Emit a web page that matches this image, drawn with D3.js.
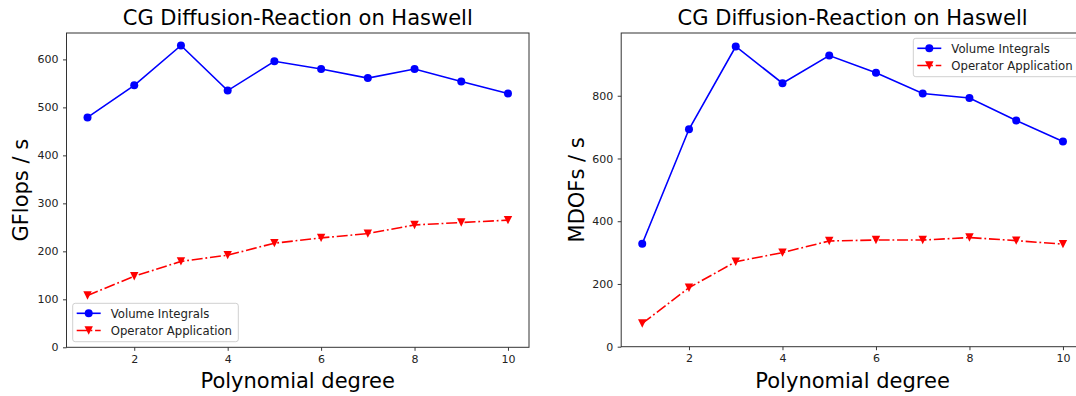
<!DOCTYPE html>
<html>
<head>
<meta charset="utf-8">
<script src="https://cdn.jsdelivr.net/npm/d3@7"></script>
<style>
  html, body { margin: 0; padding: 0; background: #fff; }
  svg { display: block; font-family: "DejaVu Sans", sans-serif; }
</style>
</head>
<body>
<svg id="chart" width="1076" height="396"></svg>
<script>
// ---- data ----
const degrees = [1, 2, 3, 4, 5, 6, 7, 8, 9, 10];
const gflopsVolume = [479, 546, 629, 535, 596, 580, 561, 580, 554, 529];
const gflopsOperator = [108, 148, 179, 192, 217, 228, 237, 255, 260, 265];
const mdofsVolume = [328, 693, 957, 840, 928, 873, 807, 793, 721, 654];
const mdofsOperator = [74, 188, 271, 300, 337, 340, 340, 348, 338, 327];
const xTicks = [2, 4, 6, 8, 10];
const gflopsTicks = [0, 100, 200, 300, 400, 500, 600];
const mdofsTicks = [0, 200, 400, 600, 800];
const seriesNames = ["Volume Integrals", "Operator Application"];
const titleText = "CG Diffusion-Reaction on Haswell";
const xLabelText = "Polynomial degree";

const svg = d3.select("#chart");

function drawPanel(o) {
  const g = svg.append("g");
  const x = d3.scaleLinear().domain([0.55, 10.45]).range([o.left, o.right]);
  const y = d3.scaleLinear().domain(o.yDomain).range([o.bottom, o.top]);

  // clip
  const clipId = "clip" + o.id;
  svg.append("clipPath").attr("id", clipId).append("rect")
    .attr("x", o.left).attr("y", o.top)
    .attr("width", o.right - o.left).attr("height", o.bottom - o.top);

  // axes
  const xAxis = d3.axisBottom(x).tickValues(xTicks).tickSize(3.5).tickPadding(4.5)
    .tickFormat(d3.format("d"));
  const yAxis = d3.axisLeft(y).tickValues(o.yTicks).tickSize(3.5).tickPadding(4.5)
    .tickFormat(d3.format("d"));
  const gx = g.append("g").attr("transform", `translate(0,${o.bottom})`).call(xAxis);
  const gy = g.append("g").attr("transform", `translate(${o.left},0)`).call(yAxis);
  [gx, gy].forEach(a => {
    a.select(".domain").remove();
    a.selectAll(".tick line").attr("stroke", "#222").attr("stroke-width", 0.9);
    a.selectAll(".tick text").attr("fill", "#222").style("font-size", "11px")
      .style("font-family", "DejaVu Sans, sans-serif");
  });

  // frame
  g.append("rect").attr("x", o.left).attr("y", o.top)
    .attr("width", o.right - o.left).attr("height", o.bottom - o.top)
    .attr("fill", "none").attr("stroke", "#333").attr("stroke-width", 1);

  const plot = g.append("g").attr("clip-path", `url(#${clipId})`);
  const line = d3.line().x((d, i) => x(degrees[i])).y(d => y(d));

  // volume series
  plot.append("path").datum(o.vol).attr("d", line)
    .attr("fill", "none").attr("stroke", "#0000ff").attr("stroke-width", 1.6);
  plot.selectAll(".vm").data(o.vol).enter().append("circle")
    .attr("cx", (d, i) => x(degrees[i])).attr("cy", d => y(d)).attr("r", 4)
    .attr("fill", "#0000ff");

  // operator series
  plot.append("path").datum(o.op).attr("d", line)
    .attr("fill", "none").attr("stroke", "#ff0000").attr("stroke-width", 1.6)
    .attr("stroke-dasharray", "11,2.8,1.8,2.8");
  const tri = "M-4.2,-4.2L4.2,-4.2L0,4.2Z";
  plot.selectAll(".om").data(o.op).enter().append("path")
    .attr("d", tri)
    .attr("transform", (d, i) => `translate(${x(degrees[i])},${y(d)})`)
    .attr("fill", "#ff0000");

  // title
  g.append("text").attr("x", (o.left + o.right0) / 2).attr("y", 25)
    .attr("text-anchor", "middle").style("font-size", "21px").attr("fill", "#000")
    .text(titleText);
  // x label
  g.append("text").attr("x", (o.left + o.right0) / 2).attr("y", 388)
    .attr("text-anchor", "middle").style("font-size", "21px").attr("fill", "#000")
    .text(xLabelText);
  // y label
  g.append("text").attr("transform", `translate(${o.ylabelX},${(o.top + o.bottom) / 2}) rotate(-90)`)
    .attr("text-anchor", "middle").style("font-size", "21px").attr("fill", "#000")
    .text(o.ylabel);

  // legend
  const L = o.legend;
  const lg = g.append("g");
  lg.append("rect").attr("x", L.x).attr("y", L.y).attr("width", L.w).attr("height", L.h)
    .attr("rx", 2.5).attr("fill", "#fff").attr("fill-opacity", 0.8)
    .attr("stroke", "#d0d0d0").attr("stroke-width", 1);
  const rows = [
    { name: seriesNames[0], color: "#0000ff", dash: null, marker: "circle" },
    { name: seriesNames[1], color: "#ff0000", dash: "11,2.8,1.8,2.8", marker: "tri" }
  ];
  rows.forEach((r, i) => {
    const cy = L.y + 10 + i * 17.2;
    const hx = L.x + 4;
    lg.append("line").attr("x1", hx).attr("x2", hx + 24).attr("y1", cy).attr("y2", cy)
      .attr("stroke", r.color).attr("stroke-width", 1.6)
      .attr("stroke-dasharray", r.dash);
    if (r.marker === "circle") {
      lg.append("circle").attr("cx", hx + 12).attr("cy", cy).attr("r", 4).attr("fill", r.color);
    } else {
      lg.append("path").attr("d", tri).attr("transform", `translate(${hx + 12},${cy})`)
        .attr("fill", r.color);
    }
    lg.append("text").attr("x", hx + 34).attr("y", cy + 4.2)
      .style("font-size", "11.7px").attr("fill", "#222").text(r.name);
  });
}

drawPanel({
  id: "L", left: 66.5, right: 529, right0: 529, top: 33, bottom: 347.3,
  yDomain: [0, 655], yTicks: gflopsTicks,
  vol: gflopsVolume, op: gflopsOperator,
  ylabel: "GFlops / s", ylabelX: 28,
  legend: { x: 72.7, y: 303.3, w: 165.6, h: 38.4 }
});
drawPanel({
  id: "R", left: 621.2, right: 1084, right0: 1084, top: 33, bottom: 346.7,
  yDomain: [0, 1000], yTicks: mdofsTicks,
  vol: mdofsVolume, op: mdofsOperator,
  ylabel: "MDOFs / s", ylabelX: 584,
  legend: { x: 913.3, y: 38.3, w: 165.6, h: 38.4 }
});
</script>
</body>
</html>
